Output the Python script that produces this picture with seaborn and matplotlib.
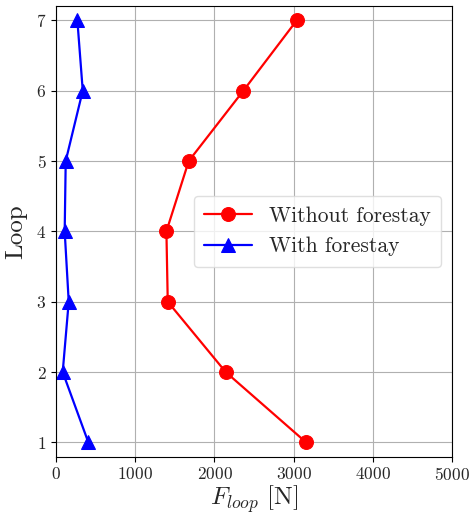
import numpy as np
import pandas as pd
import seaborn as sns
from matplotlib import pyplot as plt

# loop index and force per loop
loops = [1, 2, 3, 4, 5, 6, 7]
f_without = [3157, 2142, 1410, 1393, 1675, 2365, 3039]
f_with = [408, 84, 160, 109, 122, 337, 269]

sns.set_style("whitegrid", {'grid.color': '#b0b0b0', 'axes.edgecolor': 'black',
                            'xtick.bottom': True, 'ytick.left': True})
plt.rcParams['font.family'] = 'serif'
plt.rcParams['font.serif'] = ['cmr10']
plt.rcParams['mathtext.fontset'] = 'cm'
plt.rcParams['axes.formatter.use_mathtext'] = True
plt.rcParams['axes.unicode_minus'] = False

fig, ax = plt.subplots(figsize=(4.71, 5.17), dpi=100)
fig.subplots_adjust(left=0.119, right=0.96, top=0.988, bottom=0.117)

sns.lineplot(x=f_without, y=loops, sort=False, ax=ax, color='red', marker='o',
             markersize=10, markeredgecolor='red', linewidth=1.6, label='Without forestay')
sns.lineplot(x=f_with, y=loops, sort=False, ax=ax, color='blue', marker='^',
             markersize=10, markeredgecolor='blue', linewidth=1.6, label='With forestay')

ax.set_xlim(0, 5000)
ax.set_ylim(0.8, 7.2)
ax.set_xticks([0, 1000, 2000, 3000, 4000, 5000])
ax.set_yticks(loops)
ax.tick_params(labelsize=12.5, color='black', length=3.5, width=0.8)
for s in ax.spines.values():
    s.set_linewidth(0.8)
ax.set_xlabel(r'$F_{loop}$ [N]', fontsize=18, labelpad=0)
ax.set_ylabel('Loop', fontsize=18, labelpad=6)
leg = ax.legend(loc='center right', fontsize=15.5, frameon=True, fancybox=True,
                framealpha=0.8, borderpad=0.5, handlelength=2.2)
leg.get_frame().set_edgecolor('#d8d8d8')

plt.savefig('out.png', dpi=100)
